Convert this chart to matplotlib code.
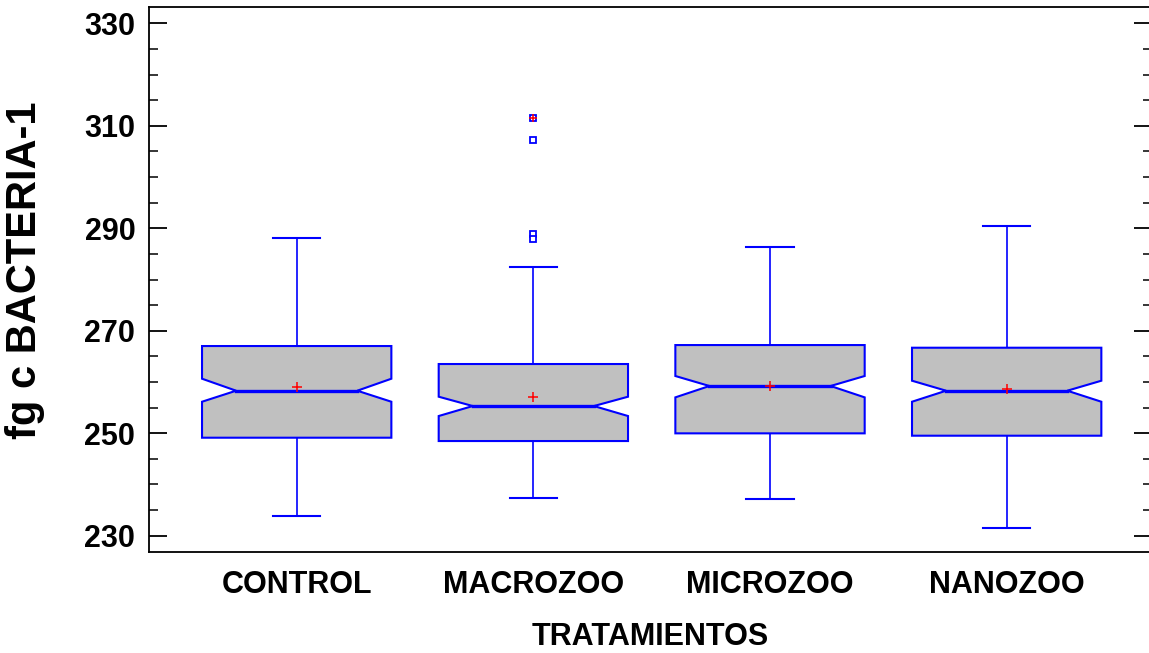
import numpy as np
import matplotlib
matplotlib.use("Agg")
import matplotlib.pyplot as plt
from matplotlib.patches import Polygon
from matplotlib.ticker import MultipleLocator

plt.rcParams["font.family"] = ["Liberation Sans", "DejaVu Sans"]
plt.rcParams["font.weight"] = "bold"

# resumen por tratamiento (cuartiles, bigotes, muescas, medias)
groups = ["CONTROL", "MACROZOO", "MICROZOO", "NANOZOO"]
whis_lo = [233.85, 237.30, 237.10, 231.56]
q1 = [249.13, 248.48, 249.98, 249.52]
notch_lo = [256.15, 253.36, 257.00, 256.15]
median = [258.30, 255.31, 259.22, 258.30]
notch_hi = [260.64, 257.13, 261.17, 260.25]
q3 = [267.02, 263.51, 267.21, 266.69]
whis_hi = [288.16, 282.50, 286.40, 290.50]
means = [259.08, 257.13, 259.25, 258.69]
outliers = [[], [311.46, 307.17, 288.82, 287.85], [], []]
far_out = [[], [311.46], [], []]

BLUE = "#0000ff"
GREY = "#c0c0c0"
W = 0.8        # ancho de caja
NW = 0.64      # fraccion del ancho en la muesca
CAP = 0.2

fig = plt.figure(figsize=(11.49, 6.53), dpi=100)
ax = fig.add_axes([0.1299, 0.1551, 0.8727, 0.8337])

for i, g in enumerate(groups):
    x = i + 1
    h, n = W / 2, W * NW / 2
    verts = [(x - h, q1[i]), (x + h, q1[i]), (x + h, notch_lo[i]), (x + n, median[i]),
             (x + h, notch_hi[i]), (x + h, q3[i]), (x - h, q3[i]), (x - h, notch_hi[i]),
             (x - n, median[i]), (x - h, notch_lo[i])]
    ax.add_patch(Polygon(verts, closed=True, facecolor=GREY, edgecolor=BLUE, lw=1.5, zorder=2))
    ax.plot([x - n, x + n], [median[i], median[i]], color=BLUE, lw=2.4, zorder=3)
    ax.plot([x, x], [q3[i], whis_hi[i]], color=BLUE, lw=1.2, zorder=1)
    ax.plot([x, x], [q1[i], whis_lo[i]], color=BLUE, lw=1.2, zorder=1)
    for v in (whis_lo[i], whis_hi[i]):
        ax.plot([x - CAP / 2, x + CAP / 2], [v, v], color=BLUE, lw=1.5, zorder=1)
    ax.plot(x, means[i], marker="+", color="red", ms=7, mew=1.1, ls="none", zorder=4)
    if outliers[i]:
        ax.plot([x] * len(outliers[i]), outliers[i], ls="none", marker="s", ms=5,
                mfc="white", mec=BLUE, mew=1.3, zorder=4)
    if far_out[i]:
        ax.plot([x] * len(far_out[i]), far_out[i], ls="none", marker="+", ms=6,
                color="red", mew=1.1, zorder=5)

ax.set_xlim(0.377, 4.614)
ax.set_ylim(226.88, 333.12)
ax.set_xticks(range(1, len(groups) + 1))
ax.set_xticklabels(groups)
ax.yaxis.set_major_locator(MultipleLocator(20))
ax.yaxis.set_minor_locator(MultipleLocator(5))
ax.set_yticks(np.arange(230, 331, 20))

ax.tick_params(axis="x", length=0, pad=13, labelsize=22)
ax.tick_params(axis="y", which="major", direction="in", length=13, width=1.3,
               right=True, labelsize=22, pad=10)
ax.tick_params(axis="y", which="minor", direction="in", length=6.5, width=1.1, right=True)
for lab in ax.get_xticklabels() + ax.get_yticklabels():
    lab.set_fontweight("bold")
for s in ax.spines.values():
    s.set_linewidth(1.3)

ax.set_xlabel("TRATAMIENTOS", fontsize=22, fontweight="bold", labelpad=16)
ax.set_ylabel("fg c BACTERIA-1", fontsize=30, fontweight="bold")
ax.yaxis.set_label_coords(-0.104, 0.517)

fig.savefig("out.png", dpi=100)
